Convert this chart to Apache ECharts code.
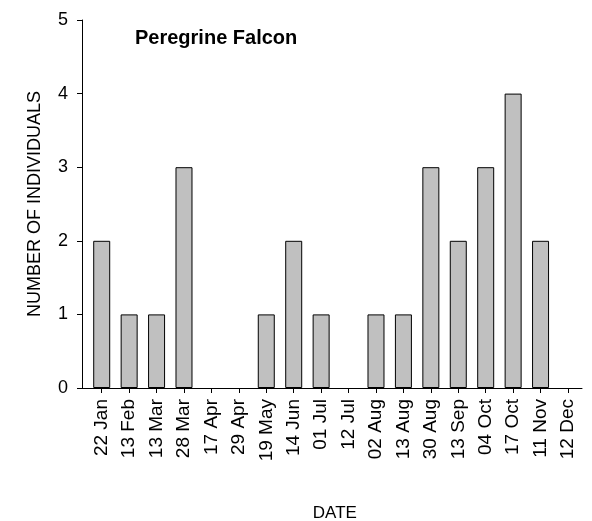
<!DOCTYPE html>
<html>
<head>
<meta charset="utf-8">
<script src="https://cdn.jsdelivr.net/npm/echarts@6/dist/echarts.min.js"></script>
<style>
  html, body { margin: 0; padding: 0; background: #fff; }
  #chart { width: 592px; height: 521px; }
</style>
</head>
<body>
<div id="chart"></div>
<script>
// survey dates and counts
var dates = ["22 Jan", "13 Feb", "13 Mar", "28 Mar", "17 Apr", "29 Apr", "19 May", "14 Jun", "01 Jul",
  "12 Jul", "02 Aug", "13 Aug", "30 Aug", "13 Sep", "04 Oct", "17 Oct", "11 Nov", "12 Dec"];
var counts = [2, 1, 1, 3, 0, 0, 1, 2, 1, 0, 1, 1, 3, 2, 3, 4, 2, 0];
var yTicks = [0, 1, 2, 3, 4, 5];

var font = "Liberation Sans, Arial, sans-serif";
var chart = echarts.init(document.getElementById("chart"));

// zero counts: no outline, so nothing shows on the axis
var barData = counts.map(function (v) {
  return v === 0 ? { value: v, itemStyle: { borderWidth: 0 } } : v;
});

var option = {
  animation: false,
  backgroundColor: "#fff",
  title: {
    text: "Peregrine Falcon",
    left: 135,
    top: 28,
    padding: 0,
    textStyle: { fontFamily: font, fontSize: 20, fontWeight: "bold", color: "#000" }
  },
  grid: [
    // bars
    { left: 88, right: 10.3, top: 20, bottom: 133, outerBoundsMode: "none", containLabel: false },
    // axis frame (y axis + x axis line)
    { left: 82, right: 10, top: 20, bottom: 133, outerBoundsMode: "none", containLabel: false }
  ],
  xAxis: [
    {
      type: "category",
      gridIndex: 0,
      data: dates,
      axisLine: { show: false },
      axisTick: { show: true, alignWithLabel: true, length: 5, lineStyle: { color: "#000" } },
      axisLabel: { rotate: 90, margin: 11, fontFamily: font, fontSize: 19, color: "#000" },
      name: "DATE",
      nameLocation: "middle",
      nameGap: 117,
      nameTextStyle: { fontFamily: font, fontSize: 17, color: "#000" }
    },
    {
      type: "value",
      gridIndex: 1,
      min: 0,
      max: 1,
      axisLine: { show: true, lineStyle: { color: "#000", width: 1 } },
      axisTick: { show: false },
      axisLabel: { show: false },
      splitLine: { show: false }
    }
  ],
  yAxis: [
    {
      type: "value",
      gridIndex: 0,
      min: 0,
      max: 5,
      interval: 1,
      show: false
    },
    {
      type: "value",
      gridIndex: 1,
      min: yTicks[0],
      max: yTicks[yTicks.length - 1],
      interval: 1,
      axisLine: { show: true, lineStyle: { color: "#000", width: 1 } },
      axisTick: { show: true, length: 5, lineStyle: { color: "#000" } },
      axisLabel: { margin: 14, fontFamily: font, fontSize: 18, color: "#000" },
      splitLine: { show: false },
      name: "NUMBER OF INDIVIDUALS",
      nameLocation: "middle",
      nameGap: 38,
      nameTextStyle: { fontFamily: font, fontSize: 18, color: "#000" }
    }
  ],
  series: [
    {
      type: "bar",
      xAxisIndex: 0,
      yAxisIndex: 0,
      data: barData,
      barWidth: 17,
      itemStyle: { color: "#c0c0c0", borderColor: "#000", borderWidth: 1 }
    }
  ]
};

chart.setOption(option);
</script>
</body>
</html>
